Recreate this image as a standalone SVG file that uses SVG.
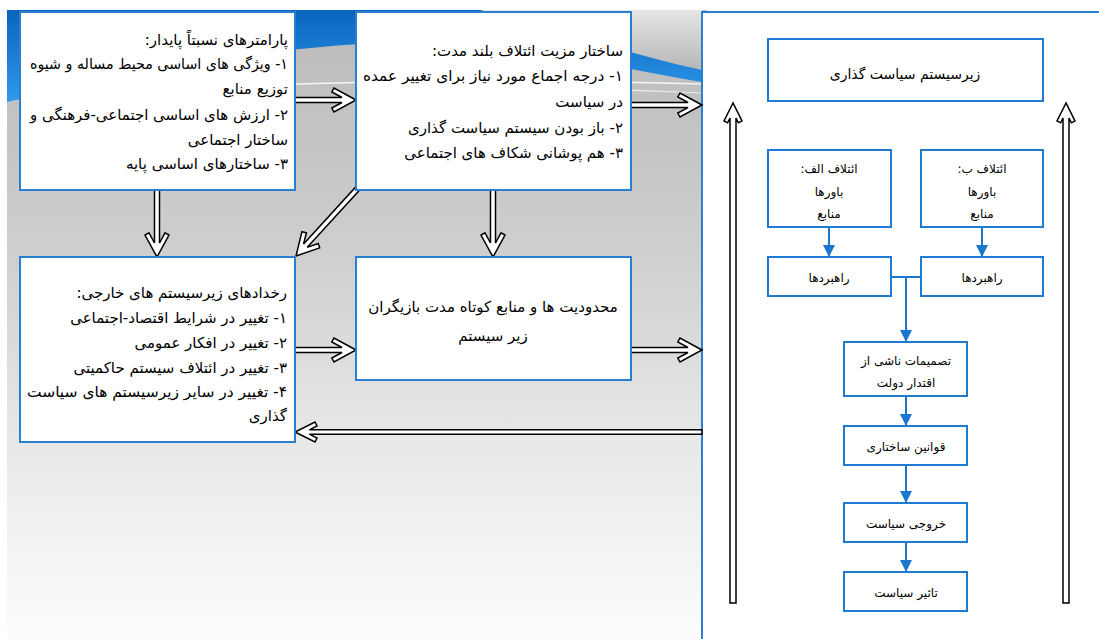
<svg xmlns="http://www.w3.org/2000/svg" width="1099" height="639" viewBox="0 0 1099 639">
<style>
.box{fill:#fff;stroke:#2a7fd3;stroke-width:2}
.pbox{fill:#fff;stroke:#1f7bd2;stroke-width:2}
.t{font-family:"DejaVu Sans",sans-serif;font-size:15px;fill:#000}
.s{font-size:12px}
.rt{direction:rtl;unicode-bidi:embed;text-anchor:start}
.ct{direction:rtl;unicode-bidi:embed;text-anchor:middle}
.ba{fill:#fff;stroke:#000;stroke-width:1.5;stroke-linejoin:miter}
.bl{fill:none;stroke:#1a76cf;stroke-width:2}
</style>
<defs>
<linearGradient id="bg" x1="0" y1="10" x2="0" y2="639" gradientUnits="userSpaceOnUse">
<stop offset="0" stop-color="#bababa"/>
<stop offset="0.2" stop-color="#c4c4c4"/>
<stop offset="0.4" stop-color="#d0d0d0"/>
<stop offset="0.7" stop-color="#e9e9e9"/>
<stop offset="1" stop-color="#fcfcfc"/>
</linearGradient>
<linearGradient id="blue" x1="0" y1="10" x2="0" y2="102" gradientUnits="userSpaceOnUse">
<stop offset="0" stop-color="#0865bd"/>
<stop offset="1" stop-color="#3199ec"/>
</linearGradient>
<linearGradient id="wedge" x1="0" y1="10" x2="0" y2="70" gradientUnits="userSpaceOnUse">
<stop offset="0" stop-color="#e6e6e6"/>
<stop offset="1" stop-color="#b6b6b6"/>
</linearGradient>
<marker id="tri" markerUnits="userSpaceOnUse" markerWidth="12" markerHeight="12" refX="12" refY="6" orient="auto">
<path d="M0,0 L12,6 L0,12 Z" fill="#1a76cf"/>
</marker>
</defs>

<g id="background">
<rect x="7" y="10" width="700" height="629" fill="url(#bg)"/>
<path d="M480,10 H702 V70 C620,52 560,30 480,10 Z" fill="url(#wedge)"/>
<path d="M7,10 H480 C560,30 620,52 702,70 V82 C620,68 520,44 420,42 C300,42 150,68 7,102 Z" fill="url(#blue)"/>
<path d="M250,86 C400,79 550,80 702,84" fill="none" stroke="#fff" stroke-opacity="0.85" stroke-width="1.5"/>
<path d="M360,88 C500,86 600,88 702,93" fill="none" stroke="#fff" stroke-opacity="0.7" stroke-width="1.2"/>
</g>

<g id="panel">
<rect x="702" y="12" width="400" height="632" fill="#fff" stroke="#2a7fd3" stroke-width="2"/>
</g>

<g id="connectors">
<path class="ba" transform="translate(356,100)" d="M0,0 L-22,-12 L-24.2,-8 L-14,-2.5 L-61,-2.5 L-61,2.5 L-14,2.5 L-24.2,8 L-22,12 Z"/>
<path class="ba" transform="translate(702,105)" d="M0,0 L-22,-12 L-24.2,-8 L-14,-2.5 L-71,-2.5 L-71,2.5 L-14,2.5 L-24.2,8 L-22,12 Z"/>
<path class="ba" transform="translate(157,257) rotate(90)" d="M0,0 L-22,-12 L-24.2,-8 L-14,-2.5 L-67,-2.5 L-67,2.5 L-14,2.5 L-24.2,8 L-22,12 Z"/>
<path class="ba" transform="translate(296,256) rotate(132.4)" d="M0,0 L-22,-12 L-24.2,-8 L-14,-2.5 L-92,-2.5 L-92,2.5 L-14,2.5 L-24.2,8 L-22,12 Z"/>
<path class="ba" transform="translate(493,257) rotate(90)" d="M0,0 L-22,-12 L-24.2,-8 L-14,-2.5 L-67,-2.5 L-67,2.5 L-14,2.5 L-24.2,8 L-22,12 Z"/>
<path class="ba" transform="translate(356,350)" d="M0,0 L-22,-12 L-24.2,-8 L-14,-2.5 L-61,-2.5 L-61,2.5 L-14,2.5 L-24.2,8 L-22,12 Z"/>
<path class="ba" transform="translate(702,350)" d="M0,0 L-22,-12 L-24.2,-8 L-14,-2.5 L-71,-2.5 L-71,2.5 L-14,2.5 L-24.2,8 L-22,12 Z"/>
<path class="ba" transform="translate(295,432) rotate(180)" d="M0,0 L-20,-10 L-22,-6 L-14.4,-2.2 L-407,-2.2 L-407,2.2 L-14.4,2.2 L-22,6 L-20,10 Z"/>
<path class="ba" transform="translate(733,103) rotate(-90)" d="M0,0 L-18,-9 L-19.8,-5.4 L-15,-3 L-500,-3 L-500,3 L-15,3 L-19.8,5.4 L-18,9 Z"/>
<path class="ba" transform="translate(1066,103) rotate(-90)" d="M0,0 L-18,-9 L-19.8,-5.4 L-15,-3 L-500,-3 L-500,3 L-15,3 L-19.8,5.4 L-18,9 Z"/>
<path class="bl" d="M829,227 V257" marker-end="url(#tri)"/>
<path class="bl" d="M982,227 V257" marker-end="url(#tri)"/>
<path class="bl" d="M891,277 H921 M906,277 V342" marker-end="url(#tri)"/>
<path class="bl" d="M906,396 V426" marker-end="url(#tri)"/>
<path class="bl" d="M906,465 V503" marker-end="url(#tri)"/>
<path class="bl" d="M906,542 V572" marker-end="url(#tri)"/>
</g>

<g id="node-params">
<rect class="box" x="20" y="12" width="275" height="178"/>
<text class="t rt" x="288" y="45">پارامترهای نسبتاً پایدار:</text>
<text class="t rt" x="288" y="69" textLength="258" lengthAdjust="spacingAndGlyphs">۱- ویژگی های اساسی محیط مساله و شیوه</text>
<text class="t rt" x="288" y="94">توزیع منابع</text>
<text class="t rt" x="288" y="120" textLength="258" lengthAdjust="spacingAndGlyphs">۲- ارزش های اساسی اجتماعی-فرهنگی و</text>
<text class="t rt" x="288" y="145">ساختار اجتماعی</text>
<text class="t rt" x="288" y="169">۳- ساختارهای اساسی پایه</text>
</g>

<g id="node-coalition-structure">
<rect class="box" x="356" y="12" width="275" height="178"/>
<text class="t rt" x="623" y="56">ساختار مزیت ائتلاف بلند مدت:</text>
<text class="t rt" x="623" y="81" textLength="260" lengthAdjust="spacingAndGlyphs">۱- درجه اجماع مورد نیاز برای تغییر عمده</text>
<text class="t rt" x="623" y="107">در سیاست</text>
<text class="t rt" x="623" y="133">۲- باز بودن سیستم سیاست گذاری</text>
<text class="t rt" x="623" y="158">۳- هم پوشانی شکاف های اجتماعی</text>
</g>

<g id="node-external-events">
<rect class="box" x="20" y="257" width="275" height="185"/>
<text class="t rt" x="287" y="298">رخدادهای زیرسیستم های خارجی:</text>
<text class="t rt" x="287" y="323">۱- تغییر در شرایط اقتصاد-اجتماعی</text>
<text class="t rt" x="287" y="348">۲- تغییر در افکار عمومی</text>
<text class="t rt" x="287" y="373">۳- تغییر در ائتلاف سیستم حاکمیتی</text>
<text class="t rt" x="287" y="397" textLength="260" lengthAdjust="spacingAndGlyphs">۴- تغییر در سایر زیرسیستم های سیاست</text>
<text class="t rt" x="287" y="421">گذاری</text>
</g>

<g id="node-constraints">
<rect class="box" x="356" y="257" width="275" height="123"/>
<text class="t ct" x="493" y="312">محدودیت ها و منابع کوتاه مدت بازیگران</text>
<text class="t ct" x="493" y="341">زیر سیستم</text>
</g>

<g id="node-subsystem">
<rect class="pbox" x="768" y="39" width="275" height="62"/>
<text class="t ct" x="905" y="79" style="font-size:14px">زیرسیستم سیاست گذاری</text>
</g>

<g id="node-coalition-a">
<rect class="pbox" x="768" y="150" width="123" height="77"/>
<text class="t s ct" x="829" y="173">ائتلاف الف:</text>
<text class="t s ct" x="829" y="196">باورها</text>
<text class="t s ct" x="829" y="218">منابع</text>
</g>

<g id="node-coalition-b">
<rect class="pbox" x="921" y="150" width="122" height="77"/>
<text class="t s ct" x="982" y="173">ائتلاف ب:</text>
<text class="t s ct" x="982" y="196">باورها</text>
<text class="t s ct" x="982" y="218">منابع</text>
</g>

<g id="node-strategies-a">
<rect class="pbox" x="768" y="257" width="123" height="39"/>
<text class="t s ct" x="829" y="282">راهبردها</text>
</g>

<g id="node-strategies-b">
<rect class="pbox" x="921" y="257" width="122" height="39"/>
<text class="t s ct" x="982" y="282">راهبردها</text>
</g>

<g id="node-decisions">
<rect class="pbox" x="844" y="342" width="123" height="54"/>
<text class="t s ct" x="906" y="365">تصمیمات ناشی از</text>
<text class="t s ct" x="906" y="387">اقتدار دولت</text>
</g>

<g id="node-rules">
<rect class="pbox" x="844" y="426" width="123" height="39"/>
<text class="t s ct" x="906" y="451">قوانین ساختاری</text>
</g>

<g id="node-output">
<rect class="pbox" x="844" y="503" width="123" height="39"/>
<text class="t s ct" x="906" y="528">خروجی سیاست</text>
</g>

<g id="node-impact">
<rect class="pbox" x="844" y="572" width="123" height="39"/>
<text class="t s ct" x="906" y="597">تاثیر سیاست</text>
</g>
</svg>
